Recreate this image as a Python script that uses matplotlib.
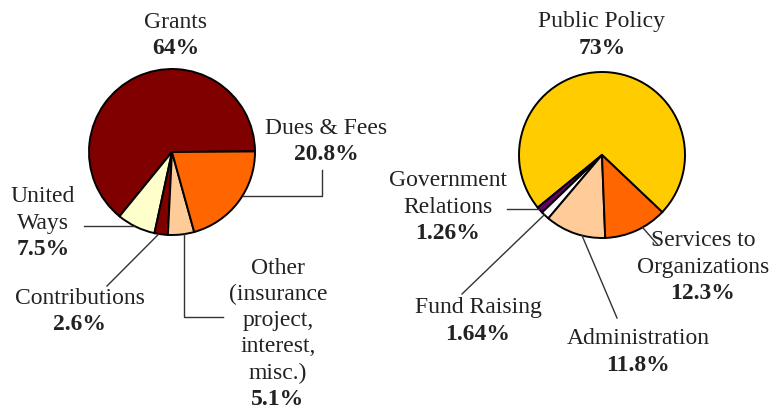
import numpy as np
import matplotlib.pyplot as plt

H = 409

# left pie: sources of revenue
src_names = ['Grants', 'United\nWays', 'Contributions',
             'Other\n(insurance\nproject,\ninterest,\nmisc.)', 'Dues & Fees']
src_pct = [64, 7.5, 2.6, 5.1, 20.8]
src_labels = ['64%', '7.5%', '2.6%', '5.1%', '20.8%']
src_colors = ['#800000', '#ffffcc', '#800000', '#ffcc99', '#ff6600']

# right pie: expenses
exp_names = ['Public Policy', 'Government\nRelations', 'Fund Raising',
             'Administration', 'Services to\nOrganizations']
exp_pct = [73, 1.26, 1.64, 11.8, 12.3]
exp_labels = ['73%', '1.26%', '1.64%', '11.8%', '12.3%']
exp_colors = ['#ffcc00', '#660066', '#ffffff', '#ffcc99', '#ff6600']

fig = plt.figure(figsize=(7.84, 4.09), dpi=100)
ax = fig.add_axes([0, 0, 1, 1])
font = 'Liberation Serif'
fs = 17
lh = 26.3


def label(name, pct, x, ytop):
    lines = name.split('\n')
    for i, s in enumerate(lines):
        ax.text(x, H - (ytop + i * lh), s, ha='center', va='center',
                family=font, fontsize=fs, color='#222222')
    ax.text(x, H - (ytop + len(lines) * lh), pct, ha='center', va='center',
            family=font, fontsize=fs, fontweight='bold', color='#222222')


def edge_point(c, r, vals, start, i, frac):
    v = np.asarray(vals, float)
    cum = np.concatenate([[0], np.cumsum(v)]) / v.sum() * 360 + start
    a = np.radians(cum[i] + frac * (cum[i + 1] - cum[i]))
    return c[0] + r * np.cos(a), c[1] + r * np.sin(a)


def leader(p0, *pts):
    # None in a point keeps the previous x or height
    xs, ys = [p0[0]], [p0[1]]
    for x, y in pts:
        xs.append(xs[-1] if x is None else x)
        ys.append(ys[-1] if y is None else H - y)
    ax.plot(xs, ys, color='#333333', lw=1.0)


wp = dict(edgecolor='black', linewidth=1.4)
c1, c2, r = (172, H - 152), (602, H - 155), 83
st1, st2 = 0.4, -43.5
ax.pie(src_pct, colors=src_colors, startangle=st1, center=c1, radius=r,
       wedgeprops=wp)
ax.pie(exp_pct, colors=exp_colors, startangle=st2, center=c2, radius=r,
       wedgeprops=wp)

# left leaders
leader(edge_point(c1, r, src_pct, st1, 4, 0.57), (322, None), (322, 170))
leader(edge_point(c1, r, src_pct, st1, 1, 0.43), (84, None))
leader(edge_point(c1, r, src_pct, st1, 2, 0.33), (107, 286))
leader(edge_point(c1, r, src_pct, st1, 3, 0.59), (None, 317), (223, None))
# right leaders
leader(edge_point(c2, r, exp_pct, st2, 1, 0.3), (507, None))
leader(edge_point(c2, r, exp_pct, st2, 2, 0.37), (462, 294))
leader(edge_point(c2, r, exp_pct, st2, 3, 0.62), (617, 318))
leader(edge_point(c2, r, exp_pct, st2, 4, 0.61), (658, 245))

label(src_names[0], src_labels[0], 176, 22)
label(src_names[1], src_labels[1], 43, 197)
label(src_names[2], src_labels[2], 80, 298)
label(src_names[3], src_labels[3], 278, 268)
label(src_names[4], src_labels[4], 326, 128)

label(exp_names[0], exp_labels[0], 602, 22)
label(exp_names[1], exp_labels[1], 448, 181)
label(exp_names[2], exp_labels[2], 478, 308)
label(exp_names[3], exp_labels[3], 638, 339)
label(exp_names[4], exp_labels[4], 703, 241)

ax.set_xlim(0, 784)
ax.set_ylim(0, H)
ax.set_aspect('equal')
ax.axis('off')
fig.savefig('out.png', dpi=100)
